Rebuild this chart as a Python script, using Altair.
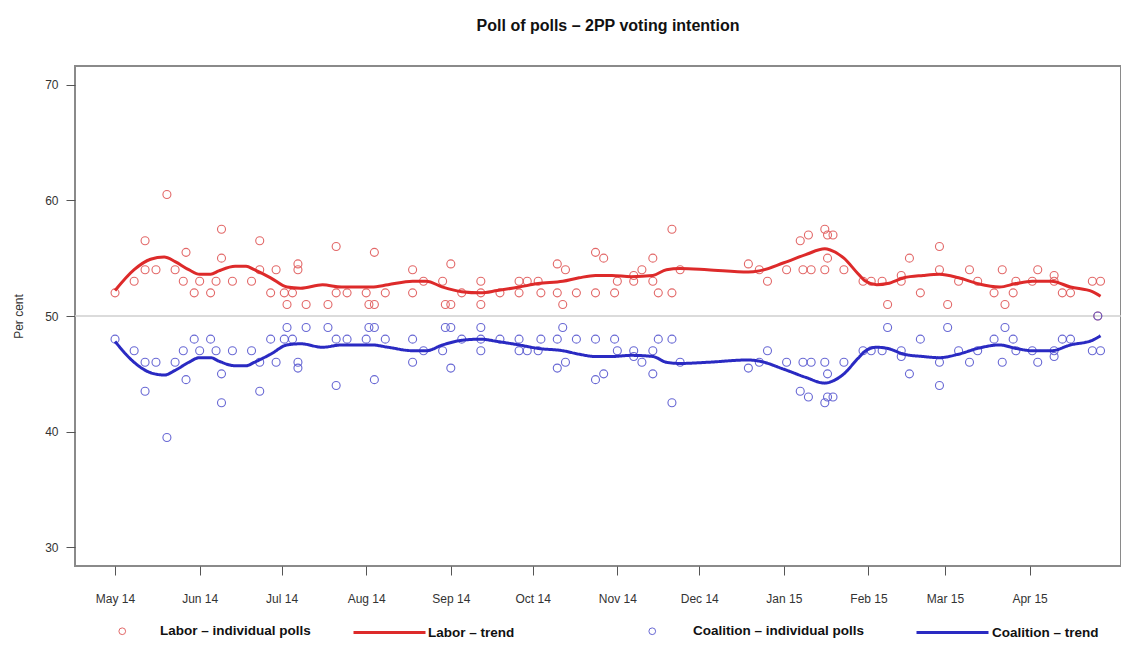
import altair as alt
import pandas as pd

# ---------------- data ----------------
poll_dates = [
    "2014-05-01", "2014-05-08", "2014-05-12", "2014-05-12", "2014-05-16", "2014-05-20",
    "2014-05-23", "2014-05-26", "2014-05-27", "2014-05-30", "2014-06-01", "2014-06-05",
    "2014-06-07", "2014-06-09", "2014-06-09", "2014-06-13", "2014-06-20", "2014-06-23",
    "2014-06-23", "2014-06-27", "2014-06-29", "2014-07-02", "2014-07-03", "2014-07-05",
    "2014-07-07", "2014-07-07", "2014-07-10", "2014-07-18", "2014-07-21", "2014-07-21",
    "2014-07-25", "2014-08-01", "2014-08-02", "2014-08-04", "2014-08-04", "2014-08-08",
    "2014-08-18", "2014-08-18", "2014-08-22", "2014-08-29", "2014-08-30", "2014-09-01",
    "2014-09-01", "2014-09-05", "2014-09-12", "2014-09-12", "2014-09-12", "2014-09-19",
    "2014-09-26", "2014-09-26", "2014-09-29", "2014-10-03", "2014-10-04", "2014-10-10",
    "2014-10-10", "2014-10-12", "2014-10-13", "2014-10-17", "2014-10-24", "2014-10-24",
    "2014-10-27", "2014-10-31", "2014-11-01", "2014-11-07", "2014-11-07", "2014-11-10",
    "2014-11-14", "2014-11-14", "2014-11-16", "2014-11-21", "2014-11-21", "2014-11-24",
    "2014-12-19", "2014-12-23", "2014-12-26", "2015-01-02", "2015-01-07", "2015-01-08",
    "2015-01-10", "2015-01-11", "2015-01-16", "2015-01-16", "2015-01-17", "2015-01-17",
    "2015-01-19", "2015-01-23", "2015-01-30", "2015-02-02", "2015-02-06", "2015-02-08",
    "2015-02-13", "2015-02-13", "2015-02-16", "2015-02-20", "2015-02-27", "2015-02-27",
    "2015-03-02", "2015-03-06", "2015-03-10", "2015-03-13", "2015-03-19", "2015-03-22",
    "2015-03-23", "2015-03-26", "2015-03-27", "2015-04-02", "2015-04-04", "2015-04-10",
    "2015-04-10", "2015-04-13", "2015-04-16", "2015-04-24", "2015-04-26", "2015-04-27",
]
labor_polls = [
    52, 53, 56.5, 54, 54, 60.5,
    54, 53, 55.5, 52, 53, 52,
    53, 55, 57.5, 53, 53, 56.5,
    54, 52, 54, 52, 51, 52,
    54.5, 54, 51, 51, 56, 52,
    52, 52, 51, 51, 55.5, 52,
    54, 52, 53, 53, 51, 51,
    54.5, 52, 53, 52, 51, 52,
    52, 53, 53, 53, 52, 54.5,
    52, 51, 54, 52, 55.5, 52,
    55, 52, 53, 53.5, 53, 54,
    55, 53, 52, 57.5, 52, 54,
    54.5, 54, 53, 54, 56.5, 54,
    57, 54, 57.5, 54, 57, 55,
    57, 54, 53, 53, 53, 51,
    53.5, 53, 55, 52, 56, 54,
    51, 53, 54, 53, 52, 54,
    51, 52, 53, 53, 54, 53.5,
    53, 52, 52, 53, 50, 53,
]
coalition_polls = [
    48, 47, 43.5, 46, 46, 39.5,
    46, 47, 44.5, 48, 47, 48,
    47, 45, 42.5, 47, 47, 43.5,
    46, 48, 46, 48, 49, 48,
    45.5, 46, 49, 49, 44, 48,
    48, 48, 49, 49, 44.5, 48,
    46, 48, 47, 47, 49, 49,
    45.5, 48, 47, 48, 49, 48,
    48, 47, 47, 47, 48, 45.5,
    48, 49, 46, 48, 44.5, 48,
    45, 48, 47, 46.5, 47, 46,
    45, 47, 48, 42.5, 48, 46,
    45.5, 46, 47, 46, 43.5, 46,
    43, 46, 42.5, 46, 43, 45,
    43, 46, 47, 47, 47, 49,
    46.5, 47, 45, 48, 44, 46,
    49, 47, 46, 47, 48, 46,
    49, 48, 47, 47, 46, 46.5,
    47, 48, 48, 47, 50, 47,
]

trend_dates = [
    "2014-05-01", "2014-05-08", "2014-05-14", "2014-05-19", "2014-05-23", "2014-05-28",
    "2014-06-01", "2014-06-05", "2014-06-08", "2014-06-14", "2014-06-18", "2014-06-21",
    "2014-06-27", "2014-07-03", "2014-07-08", "2014-07-16", "2014-07-23", "2014-08-03",
    "2014-08-09", "2014-08-18", "2014-08-23", "2014-08-29", "2014-09-05", "2014-09-12",
    "2014-09-18", "2014-09-26", "2014-10-03", "2014-10-12", "2014-10-18", "2014-10-24",
    "2014-10-30", "2014-11-06", "2014-11-14", "2014-11-19", "2014-11-24", "2014-12-04",
    "2014-12-19", "2014-12-23", "2015-01-01", "2015-01-09", "2015-01-16", "2015-01-18",
    "2015-01-23", "2015-01-28", "2015-01-31", "2015-02-04", "2015-02-08", "2015-02-14",
    "2015-02-21", "2015-02-27", "2015-03-06", "2015-03-13", "2015-03-21", "2015-03-27",
    "2015-04-02", "2015-04-09", "2015-04-16", "2015-04-24", "2015-04-27",
]
labor_trend = [
    52.2, 54.0, 54.9, 55.1, 54.7, 54.0,
    53.6, 53.6, 53.9, 54.3, 54.3, 54.0,
    53.3, 52.5, 52.4, 52.7, 52.5, 52.5,
    52.7, 53.0, 53.0, 52.5, 52.1, 52.0,
    52.2, 52.5, 52.8, 53.0, 53.3, 53.5,
    53.5, 53.4, 53.5, 54.0, 54.1, 54.0,
    53.8, 53.9, 54.6, 55.3, 55.8, 55.7,
    55.0, 53.7, 53.0, 52.7, 52.8, 53.3,
    53.5, 53.6, 53.3, 52.8, 52.5, 52.8,
    53.0, 53.0, 52.5, 52.1, 51.7,
]
coalition_trend = [
    47.8, 46.0, 45.1, 44.9, 45.3, 46.0,
    46.4, 46.4, 46.1, 45.7, 45.7, 46.0,
    46.7, 47.5, 47.6, 47.3, 47.5, 47.5,
    47.3, 47.0, 47.0, 47.5, 47.9, 48.0,
    47.8, 47.5, 47.2, 47.0, 46.7, 46.5,
    46.5, 46.6, 46.5, 46.0, 45.9, 46.0,
    46.2, 46.1, 45.4, 44.7, 44.2, 44.3,
    45.0, 46.3, 47.0, 47.3, 47.2, 46.7,
    46.5, 46.4, 46.7, 47.2, 47.5, 47.2,
    47.0, 47.0, 47.5, 47.9, 48.3,
]

month_ticks = [
    "2014-05-01", "2014-06-01", "2014-07-01", "2014-08-01", "2014-09-01", "2014-10-01",
    "2014-11-01", "2014-12-01", "2015-01-01", "2015-02-01", "2015-03-01", "2015-04-01",
]
x_domain = ["2014-04-16T08:00:00", "2015-05-04T12:00:00"]
y_ticks = [30, 40, 50, 60, 70]
y_domain = [28.4, 71.6]
parity = [50]
legend_labels = [
    "Labor – individual polls", "Labor – trend",
    "Coalition – individual polls", "Coalition – trend",
]

# ---------------- styling ----------------
RED_PT, BLUE_PT = "#e05858", "#5858d0"
RED_LN, BLUE_LN = "#dd2a2a", "#2a2ac2"
FONT = "Liberation Sans"


def ms(s):
    return int(pd.Timestamp(s, tz="UTC").value // 10**6)


polls = pd.DataFrame({"date": poll_dates, "Labor": labor_polls, "Coalition": coalition_polls})
polls["lp"] = legend_labels[0]
polls["cp"] = legend_labels[2]
trend = pd.DataFrame({"date": trend_dates, "Labor": labor_trend, "Coalition": coalition_trend})
trend["lt"] = legend_labels[1]
trend["ct"] = legend_labels[3]
ref = pd.DataFrame({"v": parity})

x_enc = alt.X(
    "date:T",
    scale=alt.Scale(type="utc", domain=[ms(d) for d in x_domain]),
    axis=alt.Axis(
        values=[ms(d) for d in month_ticks],
        labelExpr="utcFormat(datum.value, '%b %y')",
        title=None, grid=False, domain=False, tickSize=9, tickColor="#555",
        labelFontSize=12, labelColor="#333", labelPadding=18, labelFont=FONT,
    ),
)


def y_enc(field):
    return alt.Y(
        f"{field}:Q",
        scale=alt.Scale(domain=y_domain, nice=False, zero=False),
        axis=alt.Axis(
            values=y_ticks, title="Per cent", grid=False, domain=False, tickSize=9,
            tickColor="#555", labelFontSize=12, labelColor="#333", labelPadding=8,
            labelFont=FONT, titleFont=FONT, titleFontSize=12, titleFontWeight="normal",
            titleColor="#333", titleX=-57, titleY=250, titleAlign="center",
            titleBaseline="middle",
        ),
    )


def legend(x, y, offset, size, stype, **kw):
    return alt.Legend(
        orient="none", legendX=x, legendY=y, title=None, labelOffset=offset,
        symbolSize=size, symbolType=stype, labelFont=FONT, labelFontSize=13.5,
        labelFontWeight="bold", labelColor="#111", labelLimit=400, padding=0, **kw,
    )


rule = alt.Chart(ref).mark_rule(color="#cfcfcf", strokeWidth=1.5).encode(y=y_enc("v"))

lab_pts = alt.Chart(polls).mark_point(
    filled=False, size=64, strokeWidth=1.1, color=RED_PT, opacity=0.9
).encode(
    x=x_enc, y=y_enc("Labor"),
    shape=alt.Shape(
        "lp:N", scale=alt.Scale(domain=[legend_labels[0]], range=["circle"]),
        legend=legend(40.5, 558.5, 31, 45, "circle", symbolStrokeColor=RED_PT,
                      symbolStrokeWidth=1),
    ),
)

coa_pts = alt.Chart(polls).mark_point(
    filled=False, size=64, strokeWidth=1.1, color=BLUE_PT
).encode(
    x=x_enc, y=y_enc("Coalition"),
    opacity=alt.Opacity(
        "cp:N", scale=alt.Scale(domain=[legend_labels[2]], range=[0.9, 0.9]),
        legend=legend(570.5, 558.5, 34, 45, "circle", symbolStrokeColor=BLUE_PT,
                      symbolStrokeWidth=1),
    ),
)

lab_ln = alt.Chart(trend).mark_line(color=RED_LN, interpolate="monotone").encode(
    x=x_enc, y=y_enc("Labor"),
    strokeWidth=alt.StrokeWidth(
        "lt:N", scale=alt.Scale(domain=[legend_labels[1]], range=[3, 3]),
        legend=legend(277, 529, 1, 5184, "stroke", symbolStrokeColor=RED_LN),
    ),
)

coa_ln = alt.Chart(trend).mark_line(
    color=BLUE_LN, strokeWidth=3, interpolate="monotone"
).encode(
    x=x_enc, y=y_enc("Coalition"),
    strokeDash=alt.StrokeDash(
        "ct:N", scale=alt.Scale(domain=[legend_labels[3]], range=[[1, 0]]),
        legend=legend(840, 529, 2, 5184, "stroke", symbolStrokeColor=BLUE_LN,
                      symbolStrokeWidth=3),
    ),
)

chart = (
    alt.layer(rule, lab_pts, coa_pts, lab_ln, coa_ln)
    .properties(
        width=1046, height=500,
        autosize=alt.AutoSizeParams(type="none"),
        padding={"left": 67, "top": 58, "right": 0, "bottom": 72},
        title=alt.TitleParams(
            "Poll of polls – 2PP voting intention", font=FONT, fontSize=16,
            fontWeight="bold", color="#111", dx=10, offset=19, baseline="alphabetic",
        ),
    )
    .configure(font=FONT)
    .configure_view(stroke="#8a8a8a", strokeWidth=2)
)

chart.save("out.html", embed_options={"renderer": "svg", "actions": False})
